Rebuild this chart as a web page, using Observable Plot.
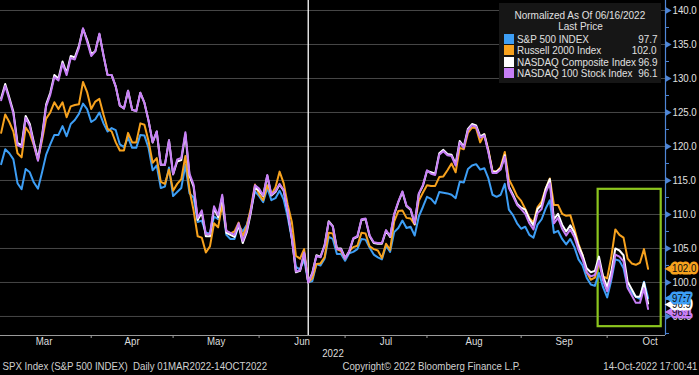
<!DOCTYPE html>
<html><head><meta charset="utf-8">
<script src="https://cdn.jsdelivr.net/npm/d3@7"></script>
<script src="https://cdn.jsdelivr.net/npm/@observablehq/plot@0.6"></script>
<style>
html,body{margin:0;padding:0;background:#000;}
#wrap{position:relative;width:699px;height:375px;overflow:hidden;background:#000;}
#legend{position:absolute;left:499px;top:3px;width:162px;height:80px;background:#161616;color:#e0e0e0;
  font-family:"Liberation Sans",sans-serif;font-size:11px;}
#legend .ln{position:absolute;left:0;right:0;height:13px;line-height:13px;white-space:nowrap;}
#legend .c{text-align:center;}
#legend .c span{display:inline-block;transform:scaleX(0.91);transform-origin:center;}
#legend .sw{position:absolute;left:5px;top:1px;width:10px;height:10px;}
#legend .lab{position:absolute;left:18px;transform:scaleX(0.9);transform-origin:left center;}
#legend .val{position:absolute;right:4px;transform:scaleX(0.9);transform-origin:right center;}
</style></head><body><div id="wrap"></div>
<script>
// Trading days 01-Mar-2022 .. 14-Oct-2022 (index 0..158), normalized to 100 on 16-Jun-2022
const monthNames = ["Mar","Apr","May","Jun","Jul","Aug","Sep","Oct"];
const monthStarts = [0,23,43,64,85,105,128,149,170]; // first trading-day index of each month (+ next month)
const normDayIndex = 75; // 16-Jun-2022
const yearLabel = "2022";

const spx = [
117.4,119.6,119.0,118.1,114.6,113.7,116.7,116.2,114.7,113.8,116.2,118.8,120.3,121.7,121.7,123.0,121.5,123.3,123.9,124.8,126.3,125.5,123.6,
124.0,125.0,123.4,122.2,122.7,122.4,120.3,119.9,121.3,119.8,119.8,121.7,121.6,119.8,116.5,117.2,113.9,114.1,116.9,112.7,
113.3,113.9,117.3,113.1,112.5,108.9,109.1,107.3,107.2,109.7,109.3,111.5,107.0,106.4,106.4,108.4,107.5,108.5,110.7,113.4,112.7,
111.8,113.9,112.1,112.4,113.5,112.2,109.6,106.4,102.3,101.9,103.4,100.0,100.2,102.7,102.5,103.5,106.7,106.4,104.2,104.2,103.2,
104.3,104.5,104.9,106.4,106.3,105.1,104.1,103.7,103.4,105.4,104.5,107.4,108.0,109.1,108.0,108.2,106.9,109.7,111.1,112.6,
112.3,111.6,113.3,113.2,113.1,112.9,112.4,114.8,114.7,116.7,117.2,117.4,116.6,116.8,115.3,112.9,112.6,112.9,114.5,110.7,109.9,108.7,107.9,
108.2,107.0,106.6,108.5,109.3,110.9,112.1,107.3,107.6,106.4,105.6,106.4,105.2,103.4,102.5,100.7,99.7,99.5,101.4,99.3,97.8,
100.3,103.4,103.2,102.1,99.3,98.5,97.9,97.6,100.1,97.7];

const rty = [
122.0,124.7,123.6,122.2,119.0,118.4,122.8,121.9,120.2,118.0,120.9,124.1,125.0,126.5,125.5,126.5,124.3,125.9,126.1,126.2,129.5,128.0,125.5,
126.6,127.0,124.7,122.6,122.2,120.6,119.4,119.4,122.0,120.6,120.6,123.4,123.2,120.8,117.6,118.3,114.8,114.5,116.6,113.5,
114.5,115.2,118.6,113.6,110.6,106.8,106.6,104.4,105.3,108.7,108.1,111.5,107.6,107.2,107.5,108.8,106.8,108.3,111.0,114.4,113.0,
112.1,114.3,112.9,114.0,116.3,114.6,111.4,108.9,103.9,103.5,104.9,100.0,100.6,102.7,102.8,103.7,107.3,107.2,104.9,104.6,103.5,
104.6,105.2,105.4,107.3,107.2,105.3,104.9,104.7,103.6,105.7,104.8,109.0,110.5,110.6,109.5,109.4,108.5,112.0,113.2,114.3,
114.2,114.2,115.5,115.6,116.5,117.5,116.2,119.8,119.6,122.0,122.8,122.7,120.6,121.8,119.5,116.4,116.3,117.0,119.2,115.2,114.0,112.7,112.0,
110.8,109.5,108.8,111.1,111.9,113.8,115.3,111.4,111.4,110.1,109.8,109.9,107.9,105.7,104.0,101.5,100.4,100.7,103.0,100.9,100.6,
103.7,107.8,107.0,106.6,103.5,102.8,102.6,102.9,104.9,102.0];

const ccmp = [
127.1,129.2,127.2,125.1,120.5,120.2,124.5,123.3,120.6,118.2,121.6,126.2,127.9,130.5,130.0,132.5,130.8,133.3,133.1,134.8,137.3,135.7,133.6,
134.0,136.5,133.4,130.5,130.5,128.8,126.0,125.6,128.2,125.4,125.2,127.9,126.4,123.8,120.6,122.2,117.3,117.3,120.9,115.9,
117.8,118.0,121.8,115.7,114.1,109.2,110.3,106.8,106.8,110.9,109.6,112.6,107.3,107.0,106.7,108.4,105.8,107.4,110.3,114.0,113.5,
112.7,115.7,112.8,113.3,114.4,113.5,110.4,106.5,101.5,101.7,104.3,100.0,101.4,104.0,103.8,105.5,109.0,108.3,105.0,105.0,103.6,
104.5,106.4,106.7,109.2,109.3,106.8,105.8,105.7,105.7,107.6,106.7,110.0,111.8,113.3,111.2,110.7,108.6,113.0,114.2,116.4,
116.2,116.0,119.0,119.5,118.9,118.8,117.4,120.8,120.0,122.6,123.3,123.1,121.5,121.8,119.3,116.3,116.3,116.8,118.7,114.1,112.9,111.6,111.0,
110.7,109.3,108.4,110.8,111.4,113.8,115.2,109.3,110.1,108.5,107.5,108.4,107.3,105.4,104.0,102.1,101.5,101.7,103.8,100.9,99.3,
101.6,105.0,104.7,104.0,100.1,99.0,97.9,97.9,100.0,96.9];

const ndx = [
126.8,128.9,126.9,124.8,120.2,119.9,124.2,123.0,120.3,117.9,121.3,125.9,127.6,130.2,129.7,132.2,130.5,133.0,132.8,134.5,137.4,135.4,133.3,
134.0,136.6,133.4,130.5,130.5,128.8,126.0,125.6,128.2,125.4,125.2,127.9,126.4,123.8,120.6,122.2,117.3,117.3,120.9,115.9,
118.1,118.3,122.1,116.0,114.4,109.5,110.6,107.1,107.1,111.2,109.9,112.9,107.6,107.3,107.0,108.7,106.1,107.7,110.6,114.3,113.8,
112.8,115.8,112.9,113.4,114.5,113.6,110.5,106.6,101.6,101.8,104.4,100.0,101.3,103.9,103.7,105.4,108.9,108.2,104.9,104.9,103.5,
104.6,106.5,106.8,109.3,109.4,106.9,105.9,105.8,105.8,107.7,106.8,110.1,111.9,113.4,111.3,110.8,108.7,113.1,114.3,116.5,
116.0,115.8,118.8,119.3,118.7,118.6,117.2,120.6,119.8,122.4,123.1,122.9,121.3,121.6,119.1,116.1,116.1,116.6,118.5,113.9,112.7,111.4,110.8,
110.1,108.7,107.8,110.2,110.8,113.2,114.6,108.7,109.5,107.9,106.9,107.8,106.7,104.8,103.4,101.5,100.9,101.1,103.2,100.3,98.7,
100.7,104.1,103.8,103.1,99.2,98.1,97.0,97.0,99.1,96.1];

const seriesNames = ["S&P 500 INDEX","Russell 2000 Index","NASDAQ Composite Index","NASDAQ 100 Stock Index"];
const seriesColors = ["#3d9ef5","#f7a21e","#ffffff","#c77ff6"];
const seriesValues = [spx, rty, ccmp, ndx];

const yMajor = [95,100,105,110,115,120,125,130,135,140];
const yMinor = [92.5,97.5,102.5,107.5,112.5,117.5,122.5,127.5,132.5,137.5];
// highlight box drawn on the chart (index / value units)
const highlightBox = [{x1:145.8, x2:161.2, y1:93.5, y2:113.7}];

// ---------- layout ----------
const W = 699, H = 375;
const xDomain = [-0.15, 162.25];
const yDomain = [92.2, 141.47];
const axisBlue = "#4f86d6";
const FONT = '"Liberation Sans",sans-serif';

const series = seriesNames.map((name,k)=>({name, color:seriesColors[k], values:seriesValues[k]}));
const lastIdx = spx.length - 1;

const monthTicks = monthStarts.slice(1, 8).map(s => s - 1);
const monthLabels = monthNames.map((m,k)=>({name:m, pos:(monthStarts[k]+monthStarts[k+1])/2 - 1}));

const marks = [];
marks.push(Plot.ruleY(yMajor, {stroke:"#474747", strokeWidth:1}));
marks.push(Plot.rect(highlightBox, {x1:"x1", x2:"x2", y1:"y1", y2:"y2", fill:"none", stroke:"#8cc51e", strokeWidth:2.2}));
marks.push(Plot.ruleX([normDayIndex], {stroke:"#ffffff", strokeWidth:1.3}));
for (const s of series) {
  marks.push(Plot.line(s.values, {x:(d,i)=>i, y:d=>d, stroke:s.color, strokeWidth:2, curve:"linear"}));
}
marks.push(Plot.ruleY([yDomain[0]], {stroke:"#9a9a9a", strokeWidth:1}));
marks.push(Plot.axisX({ticks:monthTicks, tickSize:3, tickFormat:()=>"", stroke:"#9a9a9a", anchor:"bottom"}));
marks.push(Plot.text(monthLabels, {x:"pos", text:"name", frameAnchor:"bottom", dy:9, fill:"#dddddd", fontSize:11}));
marks.push(Plot.text([yearLabel], {text:d=>d, frameAnchor:"bottom", dy:21, fill:"#dddddd", fontSize:11}));
marks.push(Plot.text(["SPX Index (S&P 500 INDEX)  Daily 01MAR2022-14OCT2022"], {text:d=>d, frameAnchor:"bottom-left", textAnchor:"start", dx:2, dy:34, fill:"#d0d0d0", fontSize:11}));
marks.push(Plot.text(["Copyright\u00A9 2022 Bloomberg Finance L.P."], {text:d=>d, frameAnchor:"bottom", textAnchor:"start", dx:9.5, dy:34, fill:"#d0d0d0", fontSize:11}));
marks.push(Plot.text(["14-Oct-2022 17:00:41"], {text:d=>d, frameAnchor:"bottom-right", textAnchor:"end", dx:32, dy:34, fill:"#d0d0d0", fontSize:11}));
marks.push(Plot.ruleX([xDomain[1]], {stroke:axisBlue, strokeWidth:1.2}));
marks.push(Plot.axisY({ticks:yMinor, anchor:"right", tickSize:3, tickFormat:()=>"", stroke:axisBlue}));
marks.push(Plot.dot(yMajor, {x:()=>xDomain[1], y:d=>d, symbol:"triangle", r:2.6, fill:axisBlue, rotate:90, dx:2}));
marks.push(Plot.axisY({ticks:yMajor, anchor:"right", tickSize:0, tickPadding:7, tickFormat:d=>d.toFixed(1), fill:"#e0e0e0", fontSize:11}));
const tagOrder = [3,2,0,1];
const tagDy = [0, 0, 1, 3];
for (const k of tagOrder) {
  const s = series[k];
  const v = s.values[lastIdx];
  marks.push(Plot.dot([v], {x:()=>lastIdx, y:d=>d, dy:tagDy[k], dx:21.5, symbol:"triangle", r:3.2, rotate:-90, fill:s.color}));
  marks.push(Plot.text([v], {x:()=>lastIdx, y:d=>d, dy:tagDy[k], dx:24, text:d=>d.toFixed(1), textAnchor:"start",
    fill:"#0a0a0a", stroke:s.color, strokeWidth:5, strokeLinejoin:"round", fontSize:11}));
}

const chart = Plot.plot({
  width:W, height:H,
  marginLeft:0, marginRight:34, marginTop:0, marginBottom:40,
  style:{background:"#000", color:"#ddd", fontFamily:FONT, fontSize:"11px", overflow:"visible"},
  x:{type:"linear", domain:xDomain, axis:null},
  y:{type:"linear", domain:yDomain, axis:null},
  marks
});
const wrap = document.getElementById("wrap");
wrap.appendChild(chart);

// emulate the narrow terminal font: compress every text horizontally
chart.querySelectorAll("text").forEach(t => {
  const L = t.getComputedTextLength();
  if (L > 0) {
    t.setAttribute("textLength", (L * 0.88).toFixed(2));
    t.setAttribute("lengthAdjust", "spacingAndGlyphs");
  }
});

// legend box (over the chart, top right)
const leg = document.createElement("div");
leg.id = "legend";
const lines = [
  `<div class="ln c" style="top:5.5px"><span>Normalized As Of 06/16/2022</span></div>`,
  `<div class="ln c" style="top:17px"><span>Last Price</span></div>`
];
series.forEach((s,k)=>{
  const top = 29.5 + k*11.6;
  lines.push(`<div class="ln" style="top:${top}px"><span class="sw" style="background:${s.color}"></span><span class="lab">${s.name.replace("&","&amp;")}</span><span class="val">${s.values[lastIdx].toFixed(1)}</span></div>`);
});
leg.innerHTML = lines.join("");
wrap.appendChild(leg);
</script></body></html>
